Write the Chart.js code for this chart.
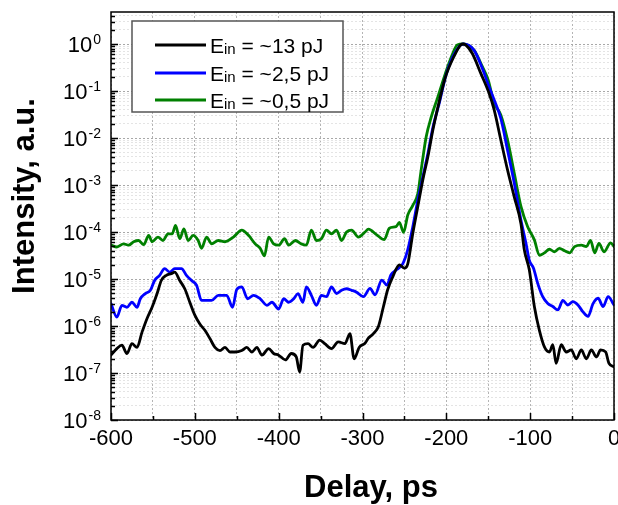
<!DOCTYPE html>
<html>
<head>
<meta charset="utf-8">
<script src="https://cdn.jsdelivr.net/npm/chart.js@4.4.0/dist/chart.umd.min.js"></script>
<style>
  html, body { margin: 0; padding: 0; background: #fff; }
  #wrap { width: 618px; height: 505px; }
</style>
</head>
<body>
<div id="wrap"><canvas id="delayChart" width="618" height="505"></canvas></div>
<script>
// delay in ps, intensity in a.u.
const delayBlack = [-600,-593,-587,-581,-575,-569,-563,-557,-551,-545,-540,-534,-528,-524,-518,-512,-506,-500,-494,-488,-482,-476,-470,-464,-458,-452,-444,-438,-432,-426,-420,-412,-406,-400,-392,-385,-379,-375,-371,-365,-359,-351,-345,-337,-329,-321,-315,-310,-304,-297,-293,-287,-281,-275,-270,-264,-256,-250,-246,-240,-234,-228,-222,-216,-208,-201,-191,-183,-180,-177,-169,-159,-149,-143,-135,-127,-119,-111,-107,-101,-95,-89,-83,-77,-73,-69,-63,-57,-51,-45,-39,-33,-27,-21,-16,-10,-6,0];
const intensityBlack = [2.4e-7,3.3e-7,3.9e-7,2.6e-7,4.2e-7,3.5e-7,7.4e-7,1.45e-6,2.5e-6,4.9e-6,9.3e-6,1.2e-5,1.3e-5,1.4e-5,9.3e-6,6.2e-6,3.2e-6,1.7e-6,1.1e-6,8.1e-7,5.4e-7,3.5e-7,3.0e-7,3.5e-7,2.8e-7,2.8e-7,3.0e-7,3.5e-7,2.8e-7,3.5e-7,2.4e-7,3.3e-7,2.6e-7,2.4e-7,1.9e-7,2.6e-7,2.2e-7,1.05e-7,3.9e-7,4.2e-7,3.5e-7,5.0e-7,4.2e-7,3.3e-7,4.6e-7,4.2e-7,6.9e-7,2.0e-7,3.5e-7,4.3e-7,5.5e-7,6.9e-7,9.8e-7,2.6e-6,5.9e-6,1.1e-5,2.0e-5,1.7e-5,2.1e-5,9.3e-5,3.5e-4,1.3e-3,4.0e-3,0.015,0.065,0.20,0.54,0.955,1.0,0.955,0.63,0.24,0.089,0.040,9.1e-3,2.1e-3,5.6e-4,1.5e-4,4.2e-5,1.55e-5,2.6e-6,8.1e-7,3.6e-7,2.8e-7,4.0e-7,1.6e-7,4.0e-7,2.8e-7,3.1e-7,2.0e-7,3.1e-7,2.0e-7,3.1e-7,2.2e-7,3.1e-7,2.8e-7,1.6e-7,1.35e-7];

const delayBlue = [-600,-593,-587,-581,-575,-569,-565,-559,-553,-548,-542,-536,-530,-524,-516,-510,-504,-498,-492,-486,-480,-472,-462,-455,-450,-444,-437,-430,-422,-414,-408,-400,-394,-388,-382,-377,-371,-367,-361,-355,-349,-343,-337,-331,-325,-319,-313,-307,-299,-291,-285,-277,-271,-266,-260,-252,-246,-240,-234,-228,-222,-216,-208,-201,-193,-185,-180,-167,-157,-149,-143,-135,-127,-119,-111,-105,-101,-96,-91,-85,-79,-73,-67,-61,-55,-49,-43,-37,-31,-25,-19,-13,-7,0];
const intensityBlue = [3.0e-6,1.55e-6,2.75e-6,2.5e-6,3.2e-6,2.5e-6,3.8e-6,4.9e-6,5.75e-6,9.3e-6,1.2e-5,1.66e-5,1.4e-5,1.66e-5,1.66e-5,1.2e-5,9.3e-6,7.4e-6,3.5e-6,3.5e-6,3.5e-6,4.5e-6,4.5e-6,2.5e-6,6.0e-6,6.8e-6,3.8e-6,4.5e-6,3.8e-6,2.75e-6,3.2e-6,2.3e-6,3.8e-6,3.2e-6,3.8e-6,4.9e-6,3.2e-6,6.8e-6,4.5e-6,2.75e-6,4.5e-6,4.2e-6,6.8e-6,4.9e-6,5.75e-6,6.2e-6,5.75e-6,5.25e-6,4.2e-6,6.3e-6,4.6e-6,9.5e-6,7.4e-6,1.23e-5,1.55e-5,2.1e-5,4.2e-5,1.3e-4,4.8e-4,1.5e-3,4.7e-3,0.017,0.059,0.20,0.50,0.87,1.0,0.74,0.30,0.123,0.065,0.026,5.5e-3,1.1e-3,1.8e-4,5.75e-5,2.5e-5,1.7e-5,8.1e-6,4.2e-6,3.0e-6,2.6e-6,2.2e-6,3.5e-6,2.8e-6,3.3e-6,2.8e-6,2.0e-6,1.6e-6,3.0e-6,3.9e-6,2.6e-6,4.2e-6,2.8e-6];

const delayGreen = [-600,-593,-585,-579,-573,-567,-561,-555,-551,-544,-538,-532,-527,-523,-518,-513,-508,-502,-496,-492,-486,-480,-472,-464,-454,-444,-436,-428,-422,-417,-412,-406,-400,-393,-388,-380,-373,-367,-361,-355,-349,-343,-337,-331,-325,-319,-313,-305,-297,-293,-283,-274,-268,-260,-256,-251,-246,-240,-234,-230,-224,-218,-210,-201,-193,-187,-180,-167,-157,-150,-143,-135,-127,-119,-111,-103,-95,-89,-83,-77,-71,-65,-59,-53,-47,-39,-33,-28,-23,-18,-12,-4,0];
const intensityGreen = [5.25e-5,4.8e-5,5.6e-5,5.25e-5,6.2e-5,6.6e-5,5.4e-5,8.5e-5,6.2e-5,7.8e-5,6.6e-5,9.1e-5,9.1e-5,1.38e-4,7.2e-5,1.17e-4,6.6e-5,8.5e-5,6.6e-5,4.5e-5,7.8e-5,5.6e-5,6.6e-5,6.2e-5,7.8e-5,1.1e-4,8.5e-5,5.6e-5,4.5e-5,3.1e-5,7.8e-5,5.6e-5,5.25e-5,7.2e-5,5.25e-5,6.6e-5,5.6e-5,5.25e-5,1.1e-4,6.6e-5,7.2e-5,1.1e-4,9.1e-5,1.1e-4,6.6e-5,1.0e-4,1.1e-4,7.8e-5,1.0e-4,1.15e-4,8.7e-5,6.9e-5,1.2e-4,1.3e-4,1.6e-4,9.8e-5,2.3e-4,3.7e-4,6.6e-4,2.1e-3,0.0107,0.028,0.076,0.24,0.59,0.955,1.0,0.74,0.33,0.17,0.055,0.031,9.1e-3,1.8e-3,3.5e-4,1.3e-4,6.8e-5,3.2e-5,3.6e-5,4.3e-5,3.8e-5,4.5e-5,4.0e-5,3.6e-5,4.9e-5,5.25e-5,4.9e-5,6.6e-5,3.6e-5,5.75e-5,3.8e-5,5.9e-5,4.9e-5];

const seriesEnergy = ['~13 pJ', '~2,5 pJ', '~0,5 pJ'];
const seriesColors = ['#000000', '#0000ff', '#008000'];
const decadeExponents = [-8, -7, -6, -5, -4, -3, -2, -1, 0];

const FONT = 'Arial, "Liberation Sans", Helvetica, sans-serif';

function toPoints(xs, ys) {
  return xs.map((x, i) => ({ x: x, y: ys[i] }));
}

// frame, inward ticks, y labels with exponents, axis titles, legend
const decorations = {
  id: 'decorations',
  afterDraw(chart) {
    const ctx = chart.ctx;
    const a = chart.chartArea;
    const xs = chart.scales.x, ys = chart.scales.y;
    ctx.save();

    ctx.strokeStyle = '#000';
    ctx.lineWidth = 1.5;
    ctx.strokeRect(a.left, a.top, a.right - a.left, a.bottom - a.top);

    // left ticks
    ctx.beginPath();
    ys.ticks.forEach(t => {
      const y = Math.round(ys.getPixelForValue(t.value)) + 0.5;
      const len = t.major ? 7 : 4;
      ctx.moveTo(a.left, y);
      ctx.lineTo(a.left + len, y);
    });
    // bottom ticks
    for (let v = -600; v <= 0; v += 50) {
      const x = Math.round(xs.getPixelForValue(v)) + 0.5;
      const len = v % 100 === 0 ? 7 : 4;
      ctx.moveTo(x, a.bottom);
      ctx.lineTo(x, a.bottom - len);
    }
    ctx.stroke();

    // y tick labels 10^n
    ctx.fillStyle = '#000';
    ctx.textAlign = 'left';
    ctx.textBaseline = 'alphabetic';
    decadeExponents.forEach(e => {
      const y = ys.getPixelForValue(Math.pow(10, e));
      const base = '10', exp = String(e);
      ctx.font = '22px ' + FONT;
      const wb = ctx.measureText(base).width;
      ctx.font = '14px ' + FONT;
      const we = ctx.measureText(exp).width;
      const x0 = 100 - wb - we;
      ctx.font = '22px ' + FONT;
      ctx.fillText(base, x0, y + 8);
      ctx.font = '14px ' + FONT;
      ctx.fillText(exp, x0 + wb + 1, y);
    });

    // axis titles
    ctx.font = 'bold 31px ' + FONT;
    ctx.textAlign = 'center';
    ctx.textBaseline = 'middle';
    ctx.save();
    ctx.translate(25, 196);
    ctx.rotate(-Math.PI / 2);
    ctx.fillText('Intensity, a.u.', 0, 0);
    ctx.restore();
    ctx.textBaseline = 'alphabetic';
    ctx.fillText('Delay, ps', 371, 497);

    // legend
    const lg = { left: 132, top: 21, right: 343, bottom: 112 };
    ctx.fillStyle = '#fff';
    ctx.fillRect(lg.left, lg.top, lg.right - lg.left, lg.bottom - lg.top);
    ctx.strokeStyle = '#555';
    ctx.lineWidth = 1.5;
    ctx.strokeRect(lg.left, lg.top, lg.right - lg.left, lg.bottom - lg.top);
    const rows = [45, 73, 100];
    ctx.textAlign = 'left';
    seriesEnergy.forEach((name, i) => {
      const y = rows[i];
      ctx.strokeStyle = seriesColors[i];
      ctx.lineWidth = 3;
      ctx.beginPath();
      ctx.moveTo(155, y);
      ctx.lineTo(206, y);
      ctx.stroke();
      ctx.fillStyle = '#000';
      let x = 210;
      ctx.font = '21px ' + FONT;
      ctx.fillText('E', x, y + 8);
      x += ctx.measureText('E').width;
      ctx.font = '15px ' + FONT;
      ctx.fillText('in', x, y + 9);
      x += ctx.measureText('in').width;
      ctx.font = '21px ' + FONT;
      ctx.fillText(' = ' + name, x, y + 8);
    });

    ctx.restore();
  }
};

new Chart(document.getElementById('delayChart').getContext('2d'), {
  type: 'line',
  data: {
    datasets: [
      { label: 'Ein = ' + seriesEnergy[0], data: toPoints(delayBlack, intensityBlack), borderColor: seriesColors[0] },
      { label: 'Ein = ' + seriesEnergy[1], data: toPoints(delayBlue, intensityBlue), borderColor: seriesColors[1] },
      { label: 'Ein = ' + seriesEnergy[2], data: toPoints(delayGreen, intensityGreen), borderColor: seriesColors[2] }
    ]
  },
  options: {
    responsive: false,
    animation: false,
    devicePixelRatio: 1,
    layout: { padding: { left: 0, right: 4, top: 12, bottom: 0 } },
    elements: {
      point: { radius: 0 },
      line: { borderWidth: 2.8, cubicInterpolationMode: 'monotone', borderJoinStyle: 'round', borderCapStyle: 'round', fill: false }
    },
    plugins: {
      legend: { display: false },
      tooltip: { enabled: false }
    },
    scales: {
      x: {
        type: 'linear',
        min: -600,
        max: 0,
        afterFit: s => { s.height = 85; s.paddingLeft = 0; s.paddingRight = 0; },
        ticks: {
          stepSize: 50,
          autoSkip: false,
          maxRotation: 0,
          padding: 6,
          color: '#000',
          font: { family: FONT, size: 22 },
          callback: v => (v % 100 === 0 ? String(v) : '')
        },
        grid: { drawTicks: false, color: '#b4b4b4', lineWidth: 1 },
        border: { display: false, dash: [2, 2] }
      },
      y: {
        type: 'logarithmic',
        min: 1e-8,
        max: 4.8,
        afterBuildTicks: scale => {
          const t = [];
          decadeExponents.forEach(e => {
            for (let m = 1; m <= 9; m++) {
              const v = m * Math.pow(10, e);
              if (v <= scale.max) t.push({ value: v, major: m === 1 });
            }
          });
          scale.ticks = t;
        },
        afterFit: s => { s.width = 111; },
        ticks: { display: false },
        grid: {
          drawTicks: false,
          lineWidth: 1,
          color: c => (c.tick && c.tick.major ? '#a8a8a8' : '#e4e4e4')
        },
        border: { display: false, dash: [2, 2] }
      }
    }
  },
  plugins: [decorations]
});
</script>
</body>
</html>
